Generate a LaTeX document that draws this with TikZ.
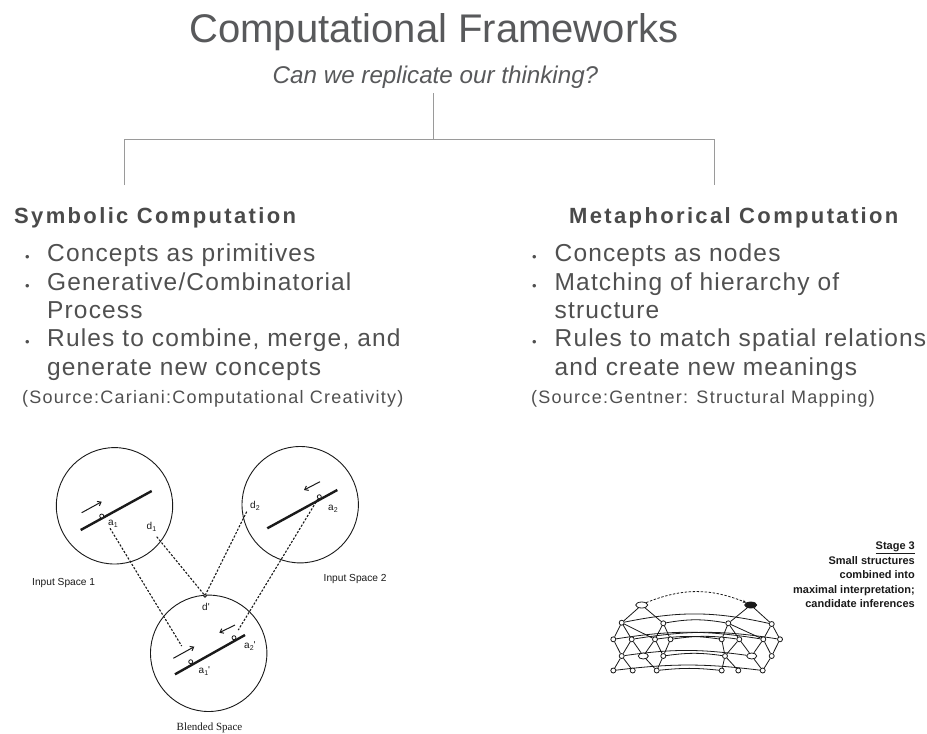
\documentclass[tikz,border=0pt]{standalone}
\usepackage{fontspec}
\setmainfont{Liberation Sans}
\newfontfamily\bodyface{Liberation Sans}[LetterSpace=4.7]
\newfontfamily\sourceface{Liberation Sans}[LetterSpace=7]
\newfontfamily\headface{Liberation Sans}[LetterSpace=10.7]
\newfontfamily\plainface{Liberation Sans}
\newfontfamily\bookface{Liberation Serif}
\usetikzlibrary{arrows.meta,shapes.geometric,backgrounds}

\definecolor{titlegray}{HTML}{58595B}
\definecolor{headgray}{HTML}{4A4A4A}
\definecolor{bodygray}{HTML}{505050}
\definecolor{linegray}{HTML}{9A9A9A}
\definecolor{ink}{HTML}{1A1A1A}

\tikzset{
  titletext/.style={anchor=base, inner sep=0pt, text=titlegray,
    font=\plainface\fontsize{40}{46}\selectfont},
  subtext/.style={anchor=base, inner sep=0pt, text=titlegray,
    font=\plainface\itshape\fontsize{24.2}{28}\selectfont},
  headtext/.style={anchor=base west, inner sep=0pt, text=headgray,
    font=\headface\bfseries\fontsize{22}{26}\selectfont},
  bodytext/.style={anchor=base west, inner sep=0pt, text=bodygray,
    font=\bodyface\fontsize{24.5}{28}\selectfont},
  bulletmark/.style={anchor=base west, inner sep=0pt, text=bodygray,
    font=\plainface\fontsize{13}{13}\selectfont},
  sourcetext/.style={anchor=base west, inner sep=0pt, text=bodygray,
    font=\sourceface\fontsize{18}{22}\selectfont},
  conn/.style={draw=linegray, line width=0.9pt},
  % blending diagram
  space/.style={draw=ink, line width=0.9pt},
  rod/.style={draw=ink, line width=2.4pt},
  pointer/.style={draw=ink, line width=1pt, -{Straight Barb[length=3.2pt,width=5pt]}},
  link/.style={draw=ink, line width=1.1pt, dash pattern=on 2.2pt off 1.6pt},
  spot/.style={circle, draw=ink, fill=white, line width=0.8pt, inner sep=0pt, minimum size=4pt},
  lbl/.style={inner sep=0pt, text=ink, font=\plainface\fontsize{10}{12}\selectfont},
  caption/.style={inner sep=0pt, text=ink, font=\plainface\fontsize{10.2}{12}\selectfont},
  % structure-mapping network
  knot/.style={circle, draw=ink, fill=white, line width=0.8pt, inner sep=0pt, minimum size=5pt},
  oval/.style={ellipse, draw=ink, fill=white, line width=0.8pt, inner sep=0pt,
    minimum width=12pt, minimum height=6pt},
  wire/.style={draw=ink, line width=0.8pt},
  stagetext/.style={anchor=base east, inner sep=0pt, text=ink,
    font=\plainface\bfseries\fontsize{11}{12}\selectfont},
}

\begin{document}
\begin{tikzpicture}[x=1pt,y=-1pt]
\useasboundingbox (0,0) rectangle (927,734);
\begin{scope}[on background layer]
  \fill[white] (0,0) rectangle (927,734);
\end{scope}

% ---------- heading ----------
\node[titletext] (title) at (434,42) {Computational Frameworks};
\node[subtext] (sub) at (435.5,83) {Can we replicate our thinking?};

\coordinate (stem) at (433,93);
\coordinate (hub)  at (433,139);
\coordinate (barL) at (124,139);
\coordinate (barR) at (714,139);
\coordinate (legL) at (124,185);
\coordinate (legR) at (714,185);
\draw[conn] (stem) -- (hub);
\draw[conn] (legL) -- (barL) -- (barR) -- (legR);

% ---------- left column ----------
\node[headtext] (lhead) at (14,223.3) {Symbolic Computation};
\node[bulletmark] (lb1) at (25,261.7) {•};
\node[bodytext] (l1) at (47,261.7) {Concepts as primitives};
\node[bulletmark] (lb2) at (25,290) {•};
\node[bodytext] (l2) at (47,290) {Generative/Combinatorial};
\node[bodytext] (l2b) at (47,318.3) {Process};
\node[bulletmark] (lb3) at (25,346.7) {•};
\node[bodytext] (l3) at (47,346.7) {Rules to combine, merge, and};
\node[bodytext] (l3b) at (47,375) {generate new concepts};
\node[sourcetext] (lsrc) at (22,403) {(Source:Cariani:Computational Creativity)};

% ---------- right column ----------
\node[headtext] (rhead) at (569,223.3) {Metaphorical Computation};
\node[bulletmark] (rb1) at (532,261.7) {•};
\node[bodytext] (r1) at (554.5,261.7) {Concepts as nodes};
\node[bulletmark] (rb2) at (532,290) {•};
\node[bodytext] (r2) at (554.5,290) {Matching of hierarchy of};
\node[bodytext] (r2b) at (554.5,318.3) {structure};
\node[bulletmark] (rb3) at (532,346.7) {•};
\node[bodytext] (r3) at (554.5,346.7) {Rules to match spatial relations};
\node[bodytext] (r3b) at (554.5,375) {and create new meanings};
\node[sourcetext] (rsrc) at (531,403) {(Source:Gentner: Structural Mapping)};

% ---------- conceptual blending ----------
\draw[space] (114.5,505.8) circle (58.2);
\draw[space] (300.2,504.7) circle (58.2);
\draw[space] (208.7,653.3) circle (58.2);

% input space 1
\coordinate (i1s) at (80.7,530);
\coordinate (i1e) at (151.7,491);
\draw[rod] (i1s) -- (i1e);
\coordinate (i1p) at (81.7,512.7);
\coordinate (i1q) at (101.7,501.7);
\draw[pointer] (i1p) -- (i1q);
\node[spot] (a1) at (101.7,516) {};
\node[lbl, anchor=base west] (a1t) at (108,525) {a\raisebox{-2.2pt}{\fontsize{7}{7}\selectfont 1}};
\node[lbl, anchor=base west] (d1t) at (146.5,529.5) {d\raisebox{-2.2pt}{\fontsize{7}{7}\selectfont 1}};
\coordinate (a1o) at (110,528.3);
\coordinate (d1o) at (156.7,536.7);

% input space 2
\coordinate (i2s) at (267.3,528.3);
\coordinate (i2e) at (337.3,490);
\draw[rod] (i2s) -- (i2e);
\coordinate (i2p) at (320,481.7);
\coordinate (i2q) at (304,490);
\draw[pointer] (i2p) -- (i2q);
\node[spot] (a2) at (319.3,496.7) {};
\node[lbl, anchor=base west] (a2t) at (328,510) {a\raisebox{-2.2pt}{\fontsize{7}{7}\selectfont 2}};
\node[lbl, anchor=base west] (d2t) at (250,508.5) {d\raisebox{-2.2pt}{\fontsize{7}{7}\selectfont 2}};
\coordinate (d2o) at (246.7,511.7);

% blended space
\coordinate (bs) at (175,674.3);
\coordinate (be) at (245,635);
\draw[rod] (bs) -- (be);
\coordinate (bp1) at (173.3,658.3);
\coordinate (bq1) at (194.3,646.7);
\draw[pointer] (bp1) -- (bq1);
\coordinate (bp2) at (235,625);
\coordinate (bq2) at (219.3,632.7);
\draw[pointer] (bp2) -- (bq2);
\node[spot] (b1) at (190.7,661.7) {};
\node[spot] (b2) at (234,637.7) {};
\node[spot, minimum size=3pt] (dp) at (205,595.7) {};
\node[lbl, anchor=base west] (b1t) at (198.5,673.5) {a\raisebox{-2.2pt}{\fontsize{7}{7}\selectfont 1}'};
\node[lbl, anchor=base west] (b2t) at (244,648.5) {a\raisebox{-2.2pt}{\fontsize{7}{7}\selectfont 2}'};
\node[lbl, anchor=base west] (dpt) at (202,610) {d'};
\coordinate (b1i) at (181.7,646);
\coordinate (b2i) at (238.3,630);

% cross-space mappings
\draw[link] (a1o) -- (b1i);
\draw[link] (d1o) -- (dp);
\draw[link] (d2o) -- (dp);
\draw[link] (a2) -- (b2i);

\node[caption, anchor=base west] (in1) at (32,585) {Input Space 1};
\node[caption, anchor=base west] (in2) at (323.5,581.5) {Input Space 2};
\node[inner sep=0pt, text=ink, font=\bookface\fontsize{11}{13}\selectfont, anchor=base west]
  (blend) at (176.5,730) {Blended Space};

% ---------- structure mapping ----------
% base (left) structure
\node[oval] (L0) at (641.7,605) {};
\node[knot] (L2a) at (621.7,622.7) {};
\node[knot] (L2b) at (663.3,623.3) {};
\node[knot] (L3a) at (613.3,639.3) {};
\node[knot] (L3b) at (631.7,639.3) {};
\node[knot] (L3c) at (655,639.3) {};
\node[knot] (L3d) at (670.5,639.3) {};
\node[knot] (L4a) at (621.7,656) {};
\node[oval, minimum width=10pt] (L4b) at (643.3,656) {};
\node[knot] (L4c) at (663.3,656) {};
\node[knot] (L5a) at (613.3,670.5) {};
\node[knot] (L5b) at (632.7,670.5) {};
\node[knot] (L5c) at (656.7,670.5) {};
% target (right) structure
\node[oval, fill=ink] (R0) at (750.7,605) {};
\node[knot] (R2a) at (728.3,623.3) {};
\node[knot] (R2b) at (771.7,624) {};
\node[knot] (R3a) at (721.7,639.3) {};
\node[knot] (R3b) at (739.3,639.3) {};
\node[knot] (R3c) at (763.3,639.3) {};
\node[knot] (R3d) at (780,639.3) {};
\node[knot] (R4a) at (725,656) {};
\node[oval, minimum width=10pt] (R4b) at (751.7,656) {};
\node[knot] (R4c) at (771.7,656) {};
\node[knot] (R5a) at (721.7,670.5) {};
\node[knot] (R5b) at (738.3,670.5) {};
\node[knot] (R5c) at (762.7,670.5) {};

\begin{scope}[on background layer]
  \foreach \s in {L,R} {
    \draw[wire] (\s0) -- (\s2a);
    \draw[wire] (\s0) -- (\s2b);
    \draw[wire] (\s2a) -- (\s3a);
    \draw[wire] (\s2a) -- (\s3b);
    \draw[wire] (\s2b) -- (\s3c);
    \draw[wire] (\s2b) -- (\s3d);
    \draw[wire] (\s2a) -- (\s3c);
    \draw[wire] (\s3a) -- (\s4a);
    \draw[wire] (\s3b) -- (\s4a);
    \draw[wire] (\s3b) -- (\s4b);
    \draw[wire] (\s3c) -- (\s4b);
    \draw[wire] (\s3c) -- (\s4c);
    \draw[wire] (\s3d) -- (\s4c);
    \draw[wire] (\s4a) -- (\s5a);
    \draw[wire] (\s4a) -- (\s5b);
    \draw[wire] (\s4c) -- (\s5c);
    \draw[wire] (\s4b) -- (\s5c);
  }
  % correspondences between the two structures
  \draw[wire] (L2a) to[bend left=12] (R2b);
  \draw[wire] (L2b) to[bend left=10] (R2a);
  \draw[wire] (L3a) to[bend left=9] (R3c);
  \draw[wire] (L3b) to[bend left=9] (R3d);
  \draw[wire] (L3c) to[bend left=8] (R3a);
  \draw[wire] (L3d) to[bend left=8] (R3b);
  \draw[wire] (L4a) to[bend left=8] (R4b);
  \draw[wire] (L4c) to[bend left=8] (R4a);
  \draw[wire] (L5a) to[bend left=7] (R5c);
  \draw[wire] (L5c) to[bend left=6] (R5a);
\end{scope}
\draw[ink, line width=0.8pt, dash pattern=on 2.4pt off 1.6pt, -{Stealth[length=3.5pt,width=3pt]}]
  (L0.north east) to[bend left=22] (R0.north west);

\node[stagetext] (st0) at (915,549) {\underline{Stage 3}};
\node[stagetext] (st1) at (915,564) {Small structures};
\node[stagetext] (st2) at (915,578.5) {combined into};
\node[stagetext] (st3) at (915,593) {maximal interpretation;};
\node[stagetext] (st4) at (915,607.5) {candidate inferences};
\end{tikzpicture}
\end{document}
